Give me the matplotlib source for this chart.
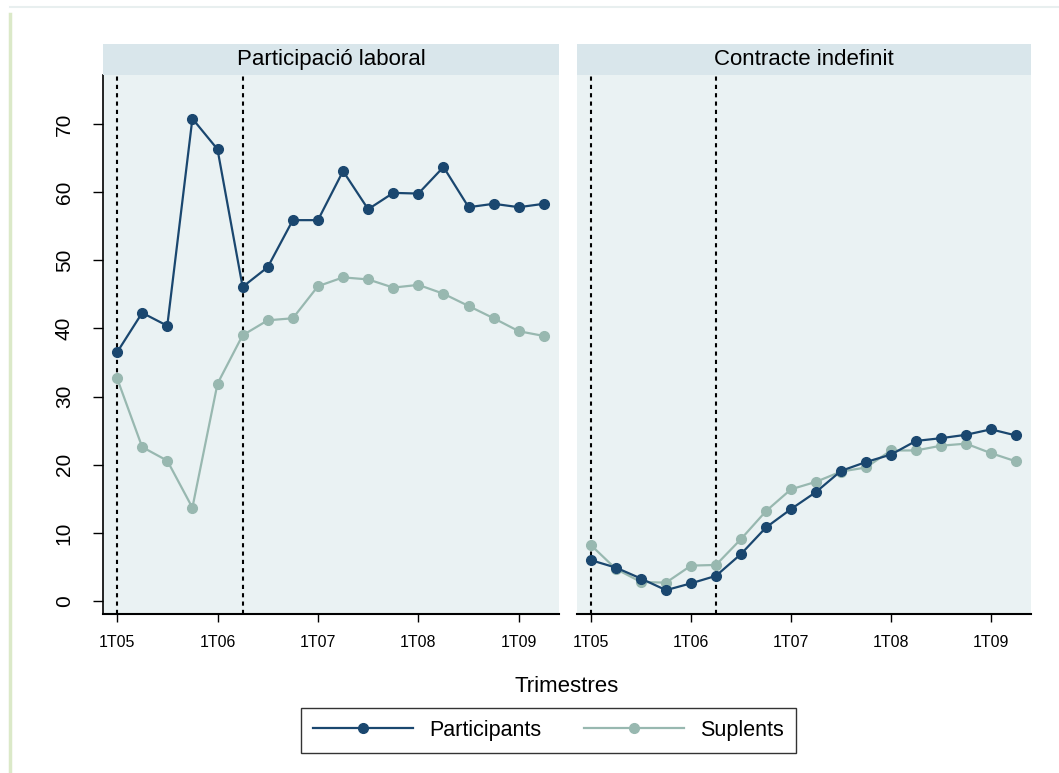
import numpy as np
import matplotlib.pyplot as plt
from matplotlib.lines import Line2D
from matplotlib.patches import Rectangle

plt.rcParams['font.family'] = ['Liberation Sans', 'DejaVu Sans']

quarters = np.arange(18)  # 1T05 .. 2T09
tick_pos = [0, 4, 8, 12, 16]
tick_labels = ['1T05', '1T06', '1T07', '1T08', '1T09']
vlines = [0, 5]

panel_titles = ['Participació laboral', 'Contracte indefinit']

# Participació laboral
lab_part = [36.5, 42.3, 40.4, 70.8, 66.3, 46.1, 49.0, 55.9, 55.9, 63.1,
            57.5, 59.9, 59.8, 63.7, 57.8, 58.3, 57.8, 58.3]
lab_supl = [32.7, 22.6, 20.6, 13.7, 31.9, 39.0, 41.2, 41.5, 46.2, 47.5,
            47.2, 46.0, 46.4, 45.1, 43.3, 41.5, 39.6, 38.9]

# Contracte indefinit
ind_part = [6.0, 4.9, 3.3, 1.6, 2.6, 3.7, 6.9, 10.8, 13.5, 16.0,
            19.1, 20.4, 21.5, 23.5, 23.9, 24.4, 25.2, 24.3]
ind_supl = [8.2, 4.7, 2.8, 2.7, 5.2, 5.3, 9.1, 13.2, 16.4, 17.5,
            19.0, 19.6, 22.1, 22.1, 22.8, 23.1, 21.7, 20.5]

c_part = '#1a476f'
c_supl = '#98b8b0'
bg_plot = '#eaf2f3'
bg_strip = '#d9e6eb'

W, H = 1059, 773
fig = plt.figure(figsize=(W / 100, H / 100), dpi=100)

# faint frame of the original screenshot
fig.add_artist(Line2D([10 / W, 10 / W], [0, 1 - 14 / H], color='#dbe9c8', lw=2.5))
fig.add_artist(Line2D([10 / W, 1], [1 - 7 / H, 1 - 7 / H], color='#e8efef', lw=1.5))

boxes = [(103, 559), (577, 1031)]
plot_top, plot_bot, strip_top = 75, 614, 44

data = [(lab_part, lab_supl), (ind_part, ind_supl)]
for i, (x0, x1) in enumerate(boxes):
    ax = fig.add_axes([x0 / W, 1 - plot_bot / H, (x1 - x0) / W, (plot_bot - plot_top) / H])
    ax.set_facecolor(bg_plot)
    p, s = data[i]
    for v in vlines:
        ax.axvline(v, color='black', lw=1.5, ls=(0, (2, 2)), zorder=1)
    ax.plot(quarters, p, color=c_part, lw=1.6, marker='o', ms=7, zorder=3)
    ax.plot(quarters, s, color=c_supl, lw=1.6, marker='o', ms=7, zorder=2)
    ax.set_xlim(-0.56, 17.6)
    ax.set_ylim(-1.9, 77.2)
    ax.set_xticks(tick_pos)
    ax.set_xticklabels(tick_labels, fontsize=11.5)
    ax.tick_params(axis='x', length=6, width=1, pad=9, direction='out')
    for sp in ['top', 'right']:
        ax.spines[sp].set_visible(False)
    ax.spines['bottom'].set_linewidth(1.5)
    if i == 0:
        ax.set_yticks([0, 10, 20, 30, 40, 50, 60, 70])
        ax.set_yticklabels(['0', '10', '20', '30', '40', '50', '60', '70'],
                           rotation=90, va='center', fontsize=15)
        ax.tick_params(axis='y', length=7, width=1, pad=14)
        ax.spines['left'].set_linewidth(1.2)
    else:
        ax.set_yticks([])
        ax.spines['left'].set_visible(False)
    # strip title
    fig.add_artist(Rectangle((x0 / W, 1 - plot_top / H), (x1 - x0) / W, (plot_top - strip_top) / H,
                             transform=fig.transFigure, facecolor=bg_strip, edgecolor='none'))
    fig.text((x0 + x1) / 2 / W, 1 - (plot_top + strip_top) / 2 / H, panel_titles[i],
             ha='center', va='center', fontsize=16)

fig.text((103 + 1031) / 2 / W, 1 - 686 / H, 'Trimestres', ha='center', va='center', fontsize=16)

handles = [Line2D([], [], color=c_part, lw=1.6, marker='o', ms=7),
           Line2D([], [], color=c_supl, lw=1.6, marker='o', ms=7)]
leg = fig.legend(handles, ['Participants', 'Suplents'], ncol=2, loc='center',
                 bbox_to_anchor=(548.5 / W, 1 - 730.5 / H), fontsize=15.5,
                 handlelength=4.65, handletextpad=0.75, columnspacing=1.95,
                 frameon=True, fancybox=False, edgecolor='black', borderpad=0.55)
leg.get_frame().set_linewidth(1.0)

fig.savefig('out.png', dpi=100)
